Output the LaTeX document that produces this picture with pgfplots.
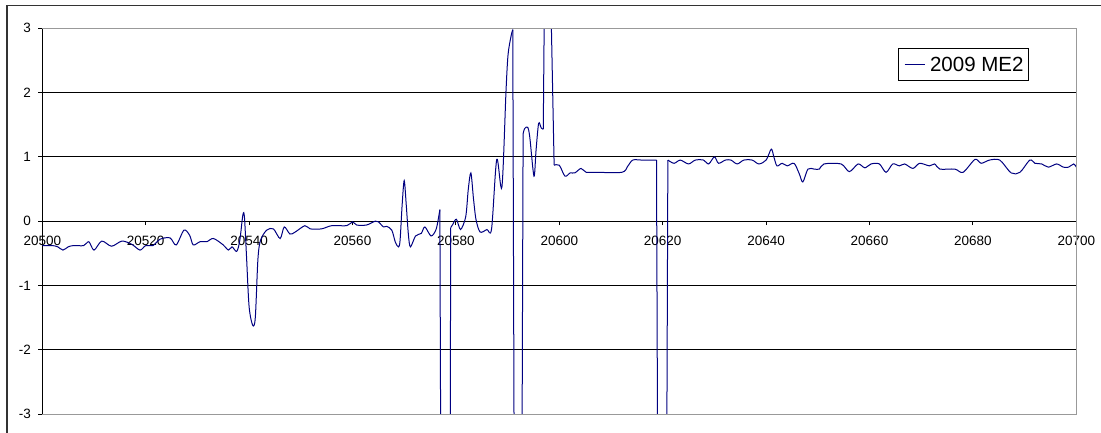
\documentclass[border=0pt]{standalone}
\usepackage{fontspec}
\setmainfont{Liberation Sans}
\usepackage{pgfplots}
\pgfplotsset{compat=1.18}
\definecolor{series}{RGB}{0,0,128}
\begin{document}
\begin{tikzpicture}
\useasboundingbox (0pt,0pt) rectangle (1101pt,432pt);
\draw[line width=1.5pt, black!80] (7pt,-20pt) -- (7pt,426.3pt) -- (1130pt,426.3pt);
\begin{axis}[
  at={(42.3pt,18pt)}, anchor=south west,
  scale only axis, width=1034pt, height=385.7pt,
  xmin=20500, xmax=20700, ymin=-3, ymax=3,
  axis x line*=middle, axis y line*=left,
  hide obscured x ticks=false, hide obscured y ticks=false,
  xtick={20500,20520,...,20700}, ytick={-3,-2,-1,0,1,2,3},
  scaled x ticks=false, scaled y ticks=false,
  xticklabel style={/pgf/number format/fixed, /pgf/number format/precision=0},
  ymajorgrids, grid style={black, line width=0.9pt},
  axis line style={black, line width=0.9pt, -},
  tick style={black, line width=0.9pt},
  tick align=outside, major tick length=4pt,
  clip mode=individual,
  /pgf/number format/assume math mode=true,
  /pgf/number format/1000 sep={},
  x tick label style={font=\fontsize{13.5}{16}\selectfont, yshift=-7.5pt},
  y tick label style={font=\fontsize{13.5}{16}\selectfont, xshift=-3.8pt},
  legend style={at={(0.9545,0.948)}, anchor=north east, draw=black, line width=0.9pt,
    font=\fontsize{20.5}{24}\selectfont, inner xsep=5.3pt, inner ysep=8.1pt,
    nodes={inner sep=0pt}, /tikz/every odd column/.append style={column sep=5pt}},
  legend image code/.code={\draw[#1, line width=1pt] (2.4pt,0pt) -- (22.4pt,0pt);},
]
\addplot[series, line width=1pt, smooth, tension=0.5] table {
x y
20500 -0.38
20502 -0.38
20503 -0.40
20504 -0.45
20505 -0.40
20506 -0.38
20508 -0.38
20509 -0.32
20510 -0.45
20511.5 -0.31
20513.4 -0.39
20515.4 -0.31
20517.3 -0.36
20518.9 -0.45
20520 -0.38
20521.4 -0.38
20522.8 -0.28
20524.7 -0.26
20525.9 -0.37
20527.4 -0.14
20528.5 -0.22
20529.2 -0.37
20530.5 -0.32
20531.8 -0.32
20533.1 -0.27
20535 -0.37
20536 -0.45
20536.7 -0.40
20537.6 -0.47
20538.2 -0.30
20538.8 0.10
20539.1 0.06
20539.5 -0.55
20540.0 -1.33
20540.7 -1.62
20541.2 -1.50
20541.7 -0.60
20542.2 -0.30
20543.4 -0.14
20544.7 -0.12
20546 -0.27
20546.8 -0.09
20547.9 -0.20
20548.9 -0.17
20550.8 -0.07
20551.8 -0.12
20554 -0.12
20556 -0.07
20558.9 -0.07
20560 -0.01
20560.8 -0.06
20562.7 -0.06
20564.4 0.0
20565 -0.01
20566 -0.09
20566.6 -0.08
20567.6 -0.14
20568.3 -0.33
20568.9 -0.40
20569.2 -0.30
20569.6 0.25
20570.0 0.63
20570.4 0.25
20570.8 -0.20
20571.2 -0.40
20572.2 -0.23
20573.3 -0.19
20574.0 -0.09
20575.2 -0.23
20576.2 -0.12
20576.9 0.18
};
\addlegendentry{2009 ME2}
\addplot[series, line width=1pt, forget plot] table {
x y
20576.9 0.18
20577.05 -3.3
20578.9 -3.3
20579.0 -0.1
};
\addplot[series, line width=1pt, smooth, tension=0.5, forget plot] table {
x y
20579.0 -0.1
20579.4 -0.05
20580.1 0.03
20580.9 -0.13
20581.9 0.07
20582.4 0.5
20582.9 0.75
20583.4 0.35
20583.9 0.02
20584.7 -0.17
20586.0 -0.13
20586.9 -0.12
20587.9 0.96
20588.9 0.53
20589.7 2.04
20590.1 2.6
20590.7 2.89
20591.0 2.98
};
\addplot[series, line width=1pt, forget plot] table {
x y
20591.0 2.98
20591.25 -3.3
20592.8 -3.3
20593.0 1.36
};
\addplot[series, line width=1pt, smooth, tension=0.5, forget plot] table {
x y
20593.0 1.36
20593.3 1.44
20593.9 1.46
20594.3 1.3
20595.1 0.70
20595.5 1.1
20596.0 1.52
20596.5 1.45
20596.9 1.43
};
\addplot[series, line width=1pt, forget plot] table {
x y
20596.9 1.43
20597.1 3.3
20598.4 3.3
20599.0 0.87
};
\addplot[series, line width=1pt, smooth, tension=0.5, forget plot] table {
x y
20599.0 0.87
20600 0.87
20601.1 0.70
20602.1 0.75
20603.0 0.75
20604.2 0.82
20605.2 0.76
20607 0.76
20612.1 0.76
20613.2 0.85
20614.2 0.95
20616 0.95
20618.8 0.95
};
\addplot[series, line width=1pt, forget plot] table {
x y
20618.8 0.95
20619.0 -3.3
20620.8 -3.3
20621.0 0.95
};
\addplot[series, line width=1pt, smooth, tension=0.5, forget plot] table {
x y
20621.0 0.95
20622.2 0.90
20623.4 0.95
20625.0 0.89
20626.3 0.95
20627.9 0.95
20628.9 0.89
20630.0 1.0
20630.8 0.90
20632.1 0.95
20633.2 0.95
20634.4 0.89
20635.7 0.95
20637.3 0.95
20638.6 0.89
20640.0 0.95
20641.0 1.12
20641.5 1.0
20642.1 0.86
20643.1 0.90
20644.1 0.86
20645.4 0.90
20646.4 0.74
20647.1 0.61
20648.1 0.81
20649.3 0.81
20650.3 0.81
20651.2 0.89
20654.5 0.89
20656.1 0.77
20657.8 0.89
20659.1 0.83
20660.3 0.89
20661.9 0.89
20663.2 0.76
20664.5 0.89
20665.8 0.86
20666.8 0.89
20668.4 0.82
20669.7 0.90
20671.6 0.86
20672.6 0.89
20673.6 0.81
20676.5 0.81
20678.1 0.76
20680.4 0.96
20681.6 0.90
20683.2 0.95
20685.2 0.95
20687.4 0.75
20689.1 0.76
20691.0 0.95
20692.0 0.90
20693.3 0.89
20694.6 0.84
20696.2 0.89
20697.5 0.84
20698.5 0.84
20699.5 0.89
20700.0 0.84
};
\draw[gray!80, line width=0.9pt] (rel axis cs:0,1) -- (rel axis cs:1,1) -- (rel axis cs:1,0) -- (rel axis cs:0,0);
\end{axis}
\end{tikzpicture}
\end{document}
